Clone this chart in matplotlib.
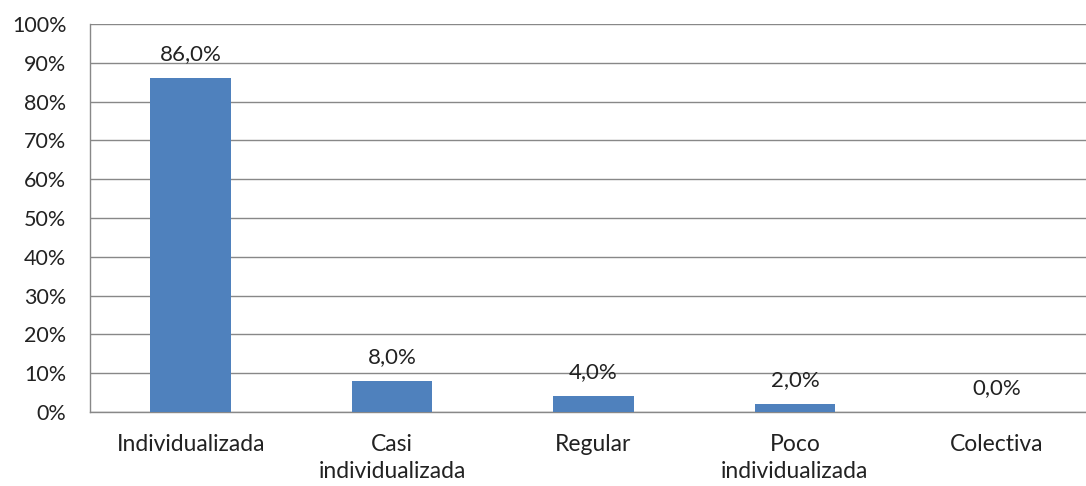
import matplotlib.pyplot as plt
import matplotlib.ticker as mticker

plt.rcParams['font.family'] = ['Lato', 'DejaVu Sans']

categorias = ['Individualizada', 'Casi\nindividualizada', 'Regular',
              'Poco\nindividualizada', 'Colectiva']
valores = [86.0, 8.0, 4.0, 2.0, 0.0]
etiquetas = ['86,0%', '8,0%', '4,0%', '2,0%', '0,0%']

fig = plt.figure(figsize=(10.86, 4.86), dpi=100)
# plot area runs slightly past the right edge, as in the original
ax = fig.add_axes([90 / 1086, 74 / 486, 1007 / 1086, 388 / 486])

x = range(len(categorias))
bars = ax.bar(x, valores, width=0.4, color='#4F81BD', zorder=3)

for b, t in zip(bars, etiquetas):
    ax.annotate(t, (b.get_x() + b.get_width() / 2, b.get_height()),
                xytext=(0, 10), textcoords='offset points',
                ha='center', va='bottom', fontsize=16, color='#222222')

ax.set_xlim(-0.5, len(categorias) - 0.5)
ax.set_ylim(0, 100)
ax.set_yticks(range(0, 101, 10))
ax.yaxis.set_major_formatter(mticker.FuncFormatter(lambda v, p: '%d%%' % v))
ax.set_xticks(list(x))
ax.set_xticklabels(categorias, linespacing=1.35)

ax.grid(axis='y', color='#888888', linewidth=1, zorder=0)
ax.tick_params(axis='y', length=0, pad=17, labelsize=15.5, labelcolor='#222222')
ax.tick_params(axis='x', length=0, pad=16, labelsize=16.5, labelcolor='#222222')

for s in ['top', 'right']:
    ax.spines[s].set_visible(False)
for s in ['left', 'bottom']:
    ax.spines[s].set_color('#888888')
    ax.spines[s].set_linewidth(1)

fig.savefig('out.png', dpi=100)
